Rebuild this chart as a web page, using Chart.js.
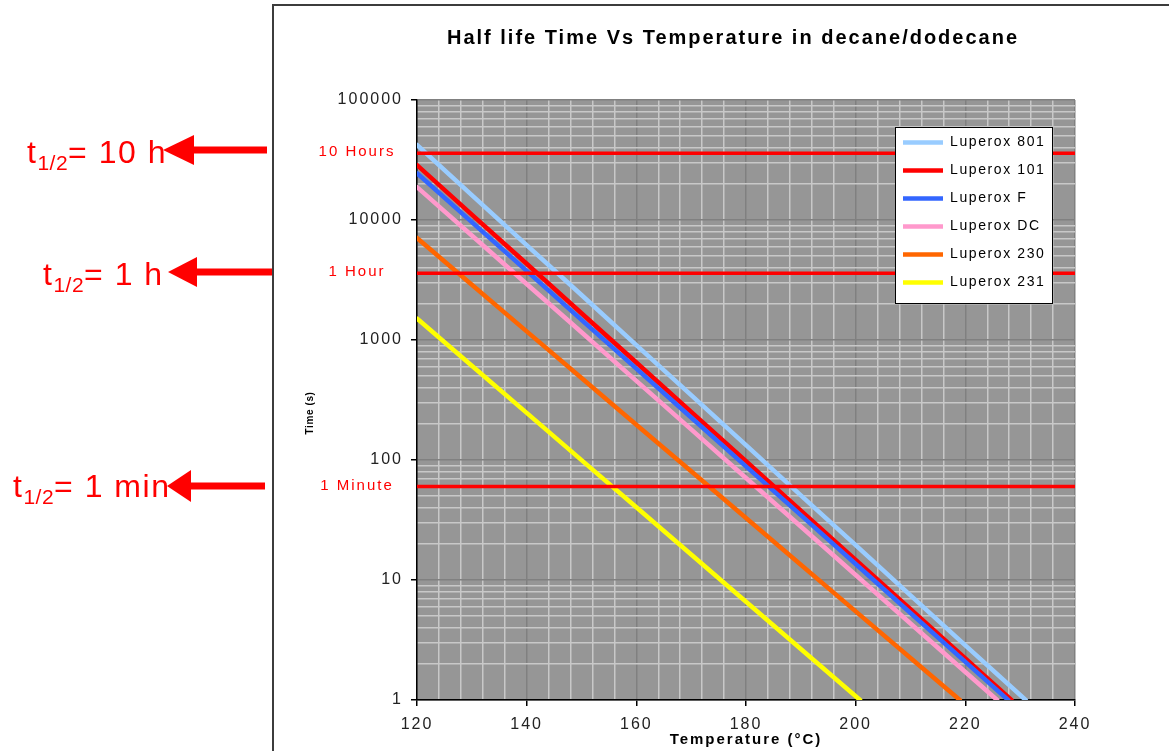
<!DOCTYPE html>
<html>
<head>
<meta charset="utf-8">
<script src="https://cdn.jsdelivr.net/npm/chart.js@4.4.1/dist/chart.umd.min.js"></script>
<style>
  body { margin: 0; background: #ffffff; }
  #wrap { position: relative; width: 1169px; height: 751px; overflow: hidden; font-family: 'Liberation Sans', Arial, sans-serif; }
  #frame { position: absolute; left: 272px; top: 4px; width: 920px; height: 800px; border-left: 2px solid #3c3c3c; border-top: 2px solid #3c3c3c; }
  #c { position: absolute; left: 0; top: 0; }
  .note { position: absolute; color: #ff0000; font-size: 32px; line-height: 32px; letter-spacing: 1.5px; white-space: nowrap; }
  .note sub { font-size: 21px; vertical-align: baseline; position: relative; top: 7px; letter-spacing: 0.5px; }
  #arrows { position: absolute; left: 0; top: 0; }
</style>
</head>
<body>
<div id="wrap">
  <div id="frame"></div>
  <canvas id="c" width="1169" height="751"></canvas>
  <div class="note" style="left:27px;top:136px">t<sub>1/2</sub>= 10 h</div>
  <div class="note" style="left:43px;top:258px">t<sub>1/2</sub>= 1 h</div>
  <div class="note" style="left:13px;top:470px">t<sub>1/2</sub>= 1 min</div>
  <svg id="arrows" width="300" height="751">
    <rect x="190" y="146.5" width="77" height="7" fill="#ff0000"/>
    <polygon points="163,150 194,135 194,165" fill="#ff0000"/>
    <rect x="195" y="268.5" width="77" height="7" fill="#ff0000"/>
    <polygon points="168,272 197,257 197,287" fill="#ff0000"/>
    <rect x="188" y="482.5" width="77" height="7" fill="#ff0000"/>
    <polygon points="167,486 191,470 191,502" fill="#ff0000"/>
  </svg>
</div>
<script>
// ---- data ----
const temperatures = [120, 130, 140, 150, 160, 170, 180, 190, 200, 210, 220];
const seriesNames = ['Luperox 801', 'Luperox 101', 'Luperox F', 'Luperox DC', 'Luperox 230', 'Luperox 231'];
const lup801 = [42200, 16100, 6180, 2370, 906, 347, 133, 50.8, 19.5, 7.45, 2.85];
const lup101 = [28700, 11100, 4320, 1670, 650, 252, 97.8, 37.9, 14.7, 5.71, 2.22];
const lupF   = [24500, 9610, 3770, 1470, 577, 226, 88.5, 34.7, 13.6, 5.31, 2.08];
const lupDC  = [18800, 7430, 2930, 1160, 456, 180, 70.8, 27.9, 11.0, 4.34, 1.71];
const lup230 = [7080, 2890, 1180, 482, 197, 80.5, 32.9, 13.4, 5.48, 2.24];
const lup231 = [1510, 611, 247, 99.8, 40.4, 16.3, 6.59, 2.66];
// temperature where each curve reaches 1 s (bottom of the axis)
const endTemps = [231, 228.4, 227.8, 225.8, 219, 200.8];
const seriesColors = ['#99ccff', '#ff0000', '#3366ff', '#ff99cc', '#ff6600', '#ffff00'];

const refLabels = ['10 Hours', '1 Hour', '1 Minute'];
const refValues = [36000, 3600, 60];

const xTickLabels = [120, 140, 160, 180, 200, 220, 240];
const yTickLabels = [1, 10, 100, 1000, 10000, 100000];

// ---- build ----
const FONT = "'Liberation Sans', Arial, sans-serif";
const LS = '2px';
const seriesValues = [lup801, lup101, lupF, lupDC, lup230, lup231];

const yTickValues = [];
for (let e = 0; e < 5; e++) {
  for (let m = 1; m <= 9; m++) yTickValues.push(m * Math.pow(10, e));
}
yTickValues.push(100000);
const isDecade = v => yTickLabels.some(t => Math.abs(t - v) < 1e-9 * Math.max(1, t));
const isMajorX = v => xTickLabels.includes(v);

const datasets = seriesValues.map((vals, i) => ({
  label: seriesNames[i],
  data: vals.map((v, j) => ({x: temperatures[j], y: v})).concat([{x: endTemps[i], y: 1}]),
  borderColor: seriesColors[i],
  backgroundColor: seriesColors[i],
  borderWidth: 4.5,
  borderCapStyle: 'round',
  pointRadius: 0,
  tension: 0,
  order: 10 - i
}));
refValues.forEach((v, k) => {
  datasets.push({
    label: refLabels[k],
    data: [{x: 120, y: v}, {x: 240, y: v}],
    borderColor: '#ff0000',
    backgroundColor: '#ff0000',
    borderWidth: 3.5,
    pointRadius: 0,
    order: 0
  });
});

const decor = {
  id: 'decor',
  beforeUpdate(chart) { chart.ctx.letterSpacing = LS; },
  beforeLayout(chart) {
    chart.ctx.letterSpacing = LS;
    const lg = chart.legend;
    if (lg) {
      lg._layers = () => [{
        z: 5,
        draw: (area) => {
          const ctx = chart.ctx;
          ctx.save();
          ctx.fillStyle = '#ffffff';
          ctx.strokeStyle = '#000000';
          ctx.lineWidth = 1;
          ctx.fillRect(895, 127, 157, 176);
          ctx.strokeRect(895.5, 127.5, 157, 176);
          ctx.restore();
          ctx.letterSpacing = '1.6px';
          lg.draw(area);
          ctx.letterSpacing = LS;
        }
      }];
    }
  },
  afterLayout(chart) {
    const lg = chart.legend;
    if (lg) {
      const w = lg.width, h = lg.height;
      lg.left = 889; lg.top = 121.5;
      lg.right = lg.left + w; lg.bottom = lg.top + h;
    }
    const tb = chart.titleBlock;
    if (tb) { tb.left = 391; tb.right = 1075; }
    const ys = chart.scales.y;
    if (ys && !ys._titlePatched) {
      const orig = ys.drawTitle;
      ys.drawTitle = function () {
        const ctx = this.ctx;
        ctx.save();
        ctx.letterSpacing = '0.6px';
        ctx.translate(0, 13);
        orig.call(this);
        ctx.restore();
      };
      ys._titlePatched = true;
    }
  },
  beforeDraw(chart) {
    const ctx = chart.ctx;
    ctx.letterSpacing = LS;
    const a = chart.chartArea;
    ctx.save();
    ctx.fillStyle = '#969696';
    ctx.fillRect(a.left, a.top, a.right - a.left, a.bottom - a.top);
    ctx.restore();
  },
  afterDraw(chart) {
    const ctx = chart.ctx;
    const ys = chart.scales.y;
    ctx.save();
    ctx.font = '15px ' + FONT;
    ctx.fillStyle = '#ff0000';
    ctx.textAlign = 'center';
    ctx.textBaseline = 'middle';
    refValues.forEach((v, k) => {
      ctx.fillText(refLabels[k], 357, ys.getPixelForValue(v) - 1);
    });
    ctx.restore();
  }
};

new Chart(document.getElementById('c'), {
  type: 'line',
  data: {datasets},
  plugins: [decor],
  options: {
    responsive: false,
    animation: false,
    devicePixelRatio: 1,
    layout: {padding: {top: 10, left: 300, right: 94, bottom: 0}},
    plugins: {
      title: {
        display: true,
        text: 'Half life Time Vs Temperature in decane/dodecane',
        color: '#000',
        font: {family: FONT, size: 20, weight: 'bold'},
        padding: {top: 16, bottom: 50}
      },
      legend: {
        position: 'chartArea',
        align: 'start',
        labels: {
          usePointStyle: true,
          pointStyle: 'line',
          pointStyleWidth: 40,
          color: '#000',
          font: {family: FONT, size: 14},
          padding: 14,
          filter: (item) => item.datasetIndex < seriesNames.length,
          sort: (a, b) => a.datasetIndex - b.datasetIndex
        }
      },
      tooltip: {enabled: false}
    },
    scales: {
      x: {
        type: 'linear',
        min: 120, max: 240,
        ticks: {
          stepSize: 4, autoSkip: false, maxRotation: 0, padding: 9,
          color: '#222', font: {family: FONT, size: 16},
          callback: (v) => isMajorX(v) ? String(v) : ''
        },
        grid: {
          color: (c) => (c.tick && isMajorX(c.tick.value)) ? '#808080' : '#c8c8c8',
          lineWidth: 1.5,
          tickLength: 6,
          tickColor: (c) => (c.tick && isMajorX(c.tick.value)) ? '#000' : 'rgba(0,0,0,0)'
        },
        border: {color: '#000', width: 1.5},
        title: {
          display: true, text: 'Temperature (°C)', color: '#000',
          font: {family: FONT, size: 15, weight: 'bold'},
          padding: {top: 0, bottom: 2}
        },
        afterFit: (s) => { s.height = 51; }
      },
      y: {
        type: 'logarithmic',
        min: 1, max: 100000,
        afterBuildTicks: (s) => { s.ticks = yTickValues.map(v => ({value: v, major: isDecade(v)})); },
        ticks: {
          autoSkip: false, padding: 8,
          color: '#222', font: {family: FONT, size: 16},
          callback: (v) => isDecade(v) ? String(Math.round(v)) : ''
        },
        grid: {
          color: (c) => (c.tick && isDecade(c.tick.value)) ? '#808080' : '#c8c8c8',
          lineWidth: 1.5,
          tickLength: 6,
          tickColor: (c) => (c.tick && isDecade(c.tick.value)) ? '#000' : 'rgba(0,0,0,0)'
        },
        border: {color: '#000', width: 1.5},
        title: {
          display: true, text: 'Time (s)', color: '#000',
          font: {family: FONT, size: 10, weight: 'bold'},
          padding: {top: 4, bottom: 0}
        },
        afterFit: (s) => { s.width = 117; }
      }
    }
  }
});
</script>
</body>
</html>
